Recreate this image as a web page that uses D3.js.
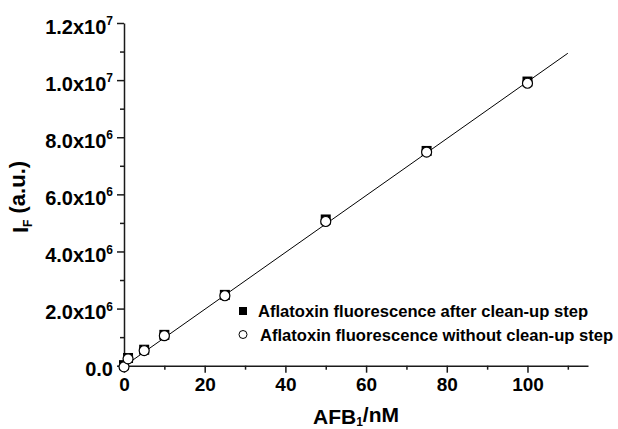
<!DOCTYPE html>
<html>
<head>
<meta charset="utf-8">
<script src="https://cdnjs.cloudflare.com/ajax/libs/d3/7.8.5/d3.min.js"></script>
<style>
  body { margin: 0; background: #fff; }
  svg { display: block; }
  text { font-family: "Liberation Sans", Arial, sans-serif; font-weight: bold; }
</style>
</head>
<body>
<div id="chart"></div>
<script>
// concentrations (nM) and fluorescence intensities (a.u.)
var conc = [0, 1, 5, 10, 25, 50, 75, 100];
var afterCleanup = [0.02e6, 0.27e6, 0.56e6, 1.08e6, 2.48e6, 5.12e6, 7.52e6, 9.95e6];
var withoutCleanup = [-0.04e6, 0.24e6, 0.53e6, 1.05e6, 2.45e6, 5.05e6, 7.48e6, 9.89e6];

// linear fit drawn through the points
var fitX = [0, 110];
var fitY = [-0.02e6, 10.94e6];

var xMajor = [0, 20, 40, 60, 80, 100];
var xMinor = [10, 30, 50, 70, 90, 110];
var yMajor = [0, 2e6, 4e6, 6e6, 8e6, 1e7, 1.2e7];
var yMinor = [1e6, 3e6, 5e6, 7e6, 9e6, 1.1e7];
var yLabels = [["0.0", ""], ["2.0x10", "6"], ["4.0x10", "6"], ["6.0x10", "6"],
               ["8.0x10", "6"], ["1.0x10", "7"], ["1.2x10", "7"]];

var legendNames = ["Aflatoxin fluorescence after clean-up step",
                   "Aflatoxin fluorescence without clean-up step"];

var W = 618, H = 429;
var svg = d3.select("#chart").append("svg").attr("width", W).attr("height", H);

var x = d3.scaleLinear().domain([0, 115]).range([124, 588]);
var y = d3.scaleLinear().domain([0, 1.2e7]).range([365.7, 23]);

var axisColor = "#1a1a1a";

// minor ticks
svg.append("g")
  .attr("transform", "translate(0," + y(0) + ")")
  .call(d3.axisBottom(x).tickValues(xMinor).tickSize(4).tickFormat("").tickSizeOuter(0))
  .call(function(g) { g.select(".domain").remove(); })
  .selectAll("line").attr("stroke", axisColor).attr("stroke-width", 1.5);

svg.append("g")
  .attr("transform", "translate(" + x(0) + ",0)")
  .call(d3.axisLeft(y).tickValues(yMinor).tickSize(4).tickFormat("").tickSizeOuter(0))
  .call(function(g) { g.select(".domain").remove(); })
  .selectAll("line").attr("stroke", axisColor).attr("stroke-width", 1.5);

// x axis
var gx = svg.append("g")
  .attr("transform", "translate(0," + y(0) + ")")
  .call(d3.axisBottom(x).tickValues(xMajor).tickSize(7).tickSizeOuter(0).tickPadding(5));
gx.select(".domain").attr("stroke", axisColor).attr("stroke-width", 1.5);
gx.selectAll("line").attr("stroke", axisColor).attr("stroke-width", 1.5);
gx.selectAll("text").attr("font-size", 19).attr("fill", "#000");

// y axis
var gy = svg.append("g")
  .attr("transform", "translate(" + x(0) + ",0)")
  .call(d3.axisLeft(y).tickValues(yMajor).tickSize(7).tickSizeOuter(0).tickPadding(4));
gy.select(".domain").attr("stroke", axisColor).attr("stroke-width", 1.5);
gy.selectAll("line").attr("stroke", axisColor).attr("stroke-width", 1.5);
gy.selectAll("text")
  .attr("font-size", 20).attr("fill", "#000").attr("dy", "0.5em")
  .text(null)
  .each(function(d, i) {
    var t = d3.select(this);
    t.append("tspan").text(yLabels[i][0]);
    if (yLabels[i][1]) {
      t.append("tspan").attr("font-size", 12).attr("dy", "-0.7em").text(yLabels[i][1]);
    }
  });

// fit line
svg.append("path")
  .datum(d3.zip(fitX, fitY))
  .attr("fill", "none")
  .attr("stroke", "#000")
  .attr("stroke-width", 1)
  .attr("d", d3.line().x(function(d) { return x(d[0]); }).y(function(d) { return y(d[1]); }));

// points: filled squares behind open circles
var sq = 10;
svg.append("g").selectAll("rect")
  .data(d3.zip(conc, afterCleanup))
  .join("rect")
  .attr("x", function(d) { return x(d[0]) - sq / 2; })
  .attr("y", function(d) { return y(d[1]) - sq / 2; })
  .attr("width", sq).attr("height", sq)
  .attr("fill", "#000");

svg.append("g").selectAll("circle")
  .data(d3.zip(conc, withoutCleanup))
  .join("circle")
  .attr("cx", function(d) { return x(d[0]); })
  .attr("cy", function(d) { return y(d[1]); })
  .attr("r", 5)
  .attr("fill", "#fff")
  .attr("stroke", "#000")
  .attr("stroke-width", 1.2);

// legend
var leg = svg.append("g");
leg.append("rect").attr("x", 239).attr("y", 307).attr("width", 8).attr("height", 8).attr("fill", "#000");
leg.append("circle").attr("cx", 243).attr("cy", 334.5).attr("r", 4)
  .attr("fill", "#fff").attr("stroke", "#000").attr("stroke-width", 1);
leg.selectAll("text")
  .data(legendNames)
  .join("text")
  .attr("x", function(d, i) { return i === 0 ? 258 : 260; })
  .attr("y", function(d, i) { return 316.5 + i * 24; })
  .attr("font-size", 16.6)
  .text(function(d) { return d; });

// axis titles
var xt = svg.append("text")
  .attr("x", 356).attr("y", 424)
  .attr("text-anchor", "middle")
  .attr("font-size", 21);
xt.append("tspan").text("AFB");
xt.append("tspan").attr("font-size", 12).attr("dy", "0.2em").text("1");
xt.append("tspan").attr("dy", "-0.2em").text("/nM");

var yt = svg.append("text")
  .attr("transform", "translate(28,197) rotate(-90)")
  .attr("text-anchor", "middle")
  .attr("font-size", 22);
yt.append("tspan").text("I");
yt.append("tspan").attr("font-size", 12).attr("dy", "0.35em").text("F");
yt.append("tspan").attr("dy", "-0.35em").text(" (a.u.)");
</script>
</body>
</html>
